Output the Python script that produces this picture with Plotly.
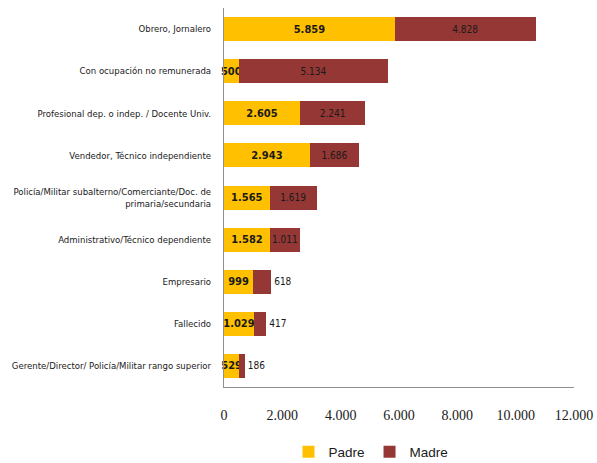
import plotly.graph_objects as go

categories = [
    "Obrero, Jornalero",
    "Con ocupación no remunerada",
    "Profesional dep. o indep. / Docente Univ.",
    "Vendedor, Técnico independiente",
    "Policía/Militar subalterno/Comerciante/Doc. de<br>primaria/secundaria",
    "Administrativo/Técnico dependiente",
    "Empresario",
    "Fallecido",
    "Gerente/Director/ Policía/Militar rango superior",
]
padre = [5859, 500, 2605, 2943, 1565, 1582, 999, 1029, 529]
madre = [4828, 5134, 2241, 1686, 1619, 1011, 618, 417, 186]
madre_pos = ["inside", "inside", "inside", "inside", "inside", "inside", "outside", "outside", "outside"]
x_ticks = [0, 2000, 4000, 6000, 8000, 10000, 12000]

COND = "DejaVu Sans Condensed, Liberation Sans Narrow, sans-serif"

fig = go.Figure()
fig.add_trace(go.Bar(
    y=categories, x=padre, orientation="h", name="Padre",
    marker=dict(color="#FFC000", line=dict(width=0)),
    texttemplate="<b>%{x:,d}</b>", textposition="inside", textangle=0,
    insidetextanchor="middle", constraintext="none", cliponaxis=False,
    textfont=dict(family=COND, size=11, color="#1a1a1a"),
))
fig.add_trace(go.Bar(
    y=categories, x=madre, orientation="h", name="Madre",
    marker=dict(color="#953735", line=dict(width=0)),
    texttemplate="%{x:,d}", textposition=madre_pos, textangle=0,
    insidetextanchor="middle", constraintext="none", cliponaxis=False,
    textfont=dict(family=COND, size=10, color="#1a1a1a"),
    outsidetextfont=dict(family=COND, size=10, color="#1a1a1a"),
))

fig.update_layout(
    width=597, height=463,
    barmode="stack", bargap=0.43,
    separators=",.",
    paper_bgcolor="white", plot_bgcolor="white",
    margin=dict(l=224, r=23, t=8, b=76, autoexpand=False),
    showlegend=True,
    legend=dict(orientation="h", x=0.42, xanchor="center",
                yref="container", y=(463 - 452) / 463, yanchor="middle",
                font=dict(family="Liberation Sans, Arial, sans-serif", size=13.5, color="#1a1a1a"),
                traceorder="normal", itemwidth=30),
    xaxis=dict(range=[0, 12000], tickvals=x_ticks, tickformat=",d", automargin=False,
               showgrid=False, zeroline=False, showline=True, linecolor="#909090",
               linewidth=1, ticks="", ticklabelstandoff=15,
               tickfont=dict(family="Liberation Serif, DejaVu Serif, serif", size=14, color="#1a1a1a")),
    yaxis=dict(categoryorder="array", categoryarray=categories, autorange="reversed",
               automargin=False,
               showgrid=False, showline=True, linecolor="#909090", linewidth=1,
               ticks="", ticklabelstandoff=10,
               tickfont=dict(family=COND, size=9.5, color="#1a1a1a")),
)

fig.write_html("out.html", config={"displayModeBar": False},
               post_script="document.body.style.margin='0';")
